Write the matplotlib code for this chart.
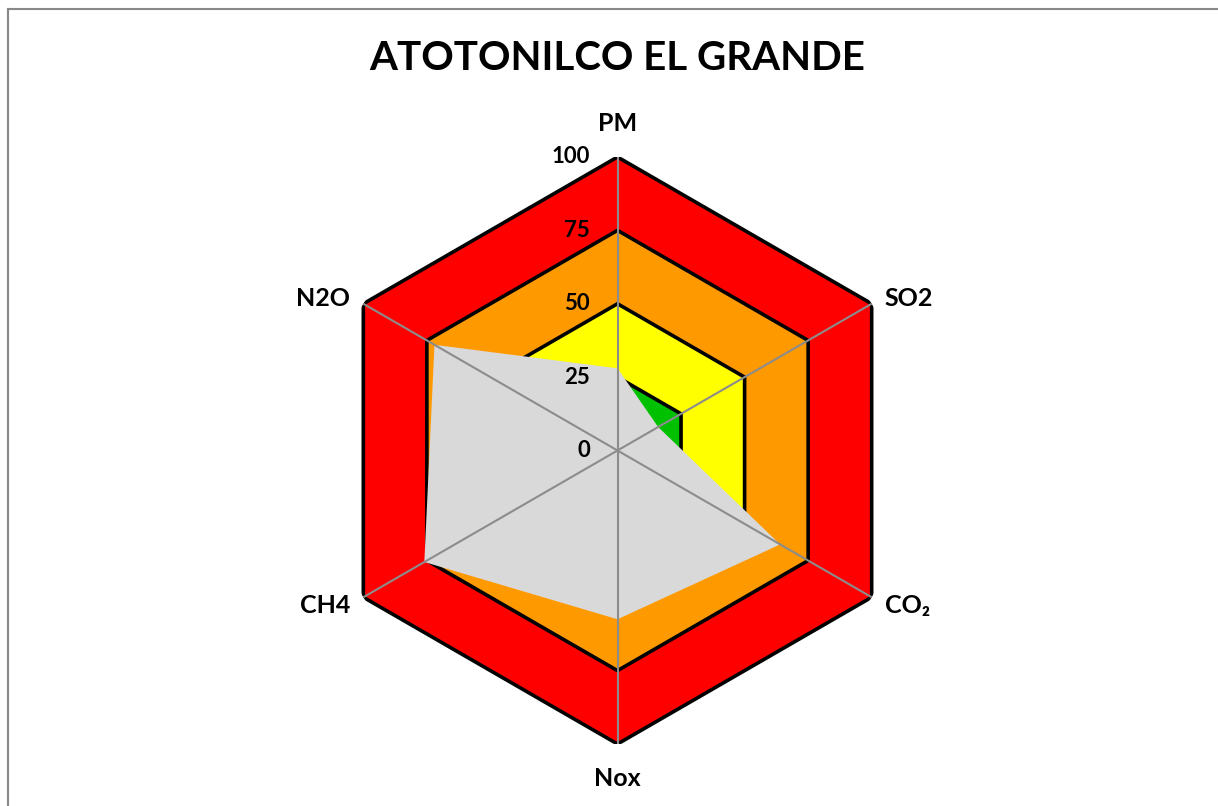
import numpy as np
import matplotlib
matplotlib.use('Agg')
import matplotlib.pyplot as plt
from matplotlib.transforms import offset_copy

plt.rcParams['font.family'] = ['Lato', 'DejaVu Sans']
plt.rcParams['font.weight'] = 'bold'

# Datos
categorias = ['PM', 'SO2', 'CO₂', 'Nox', 'CH4', 'N2O']
valores = [28, 16, 64, 57.5, 76, 72]
niveles = [100, 75, 50, 25]
colores_niveles = ['#FF0000', '#FF9900', '#FFFF00', '#00C000']
ticks = [0, 25, 50, 75, 100]
titulo = 'ATOTONILCO EL GRANDE'

W, H = 1218, 806
fig = plt.figure(figsize=(W / 100, H / 100), dpi=100)

# centro (617.5, 450.5) px, radio 293.5 px
cx, cy, R = 617.5, 450.5, 293.5
ax = fig.add_axes([(cx - R) / W, (H - cy - R) / H, 2 * R / W, 2 * R / H], projection='polar')
ax.set_theta_zero_location('N')
ax.set_theta_direction(-1)
ax.set_ylim(0, 100)
ax.grid(False)
ax.set_xticks([])
ax.set_yticks([])
ax.spines['polar'].set_visible(False)
ax.patch.set_alpha(0)

n = len(categorias)
ang = np.arange(n) * 2 * np.pi / n
ang_c = np.append(ang, ang[0])

# hexagonos de niveles
for i, (nv, c) in enumerate(zip(niveles, colores_niveles)):
    ax.fill(ang_c, [nv] * (n + 1), facecolor=c, edgecolor='black', lw=2.6, zorder=2 + i)

# serie de datos
v = valores + [valores[0]]
ax.fill(ang_c, v, facecolor='#D9D9D9', edgecolor='none', zorder=10)

# radios
for a in ang:
    ax.plot([a, a], [0, 100], color='#8C8C8C', lw=1.5, zorder=11)

# etiquetas de categorias
desp = [(0, 33, 'center'), (13, 5, 'left'), (13, -8, 'left'),
        (0, -34, 'center'), (-13, -8, 'right'), (-13, 5, 'right')]
for a, txt, (dx, dy, ha) in zip(ang, categorias, desp):
    tr = offset_copy(ax.transData, fig=fig, x=dx, y=dy, units='dots')
    ax.text(a, 100, txt, transform=tr, ha=ha, va='center', fontsize=18,
            fontweight='bold', zorder=12)

# etiquetas de escala
tr = offset_copy(ax.transData, fig=fig, x=-27.5, y=0, units='dots')
for t in ticks:
    ax.text(0, t, str(t), transform=tr, ha='right', va='center', fontsize=16,
            fontweight='bold', zorder=12)

fig.text(cx / W, 1 - 58.5 / H, titulo, ha='center', va='center', fontsize=29,
         fontweight='bold')

# borde
fig.add_artist(plt.Line2D([7.5 / W, 7.5 / W], [0, 1 - 8.5 / H], transform=fig.transFigure,
                          color='#888888', lw=1.5))
fig.add_artist(plt.Line2D([7.5 / W, 1], [1 - 8.5 / H, 1 - 8.5 / H], transform=fig.transFigure,
                          color='#888888', lw=1.5))

fig.savefig('out.png', dpi=100)
